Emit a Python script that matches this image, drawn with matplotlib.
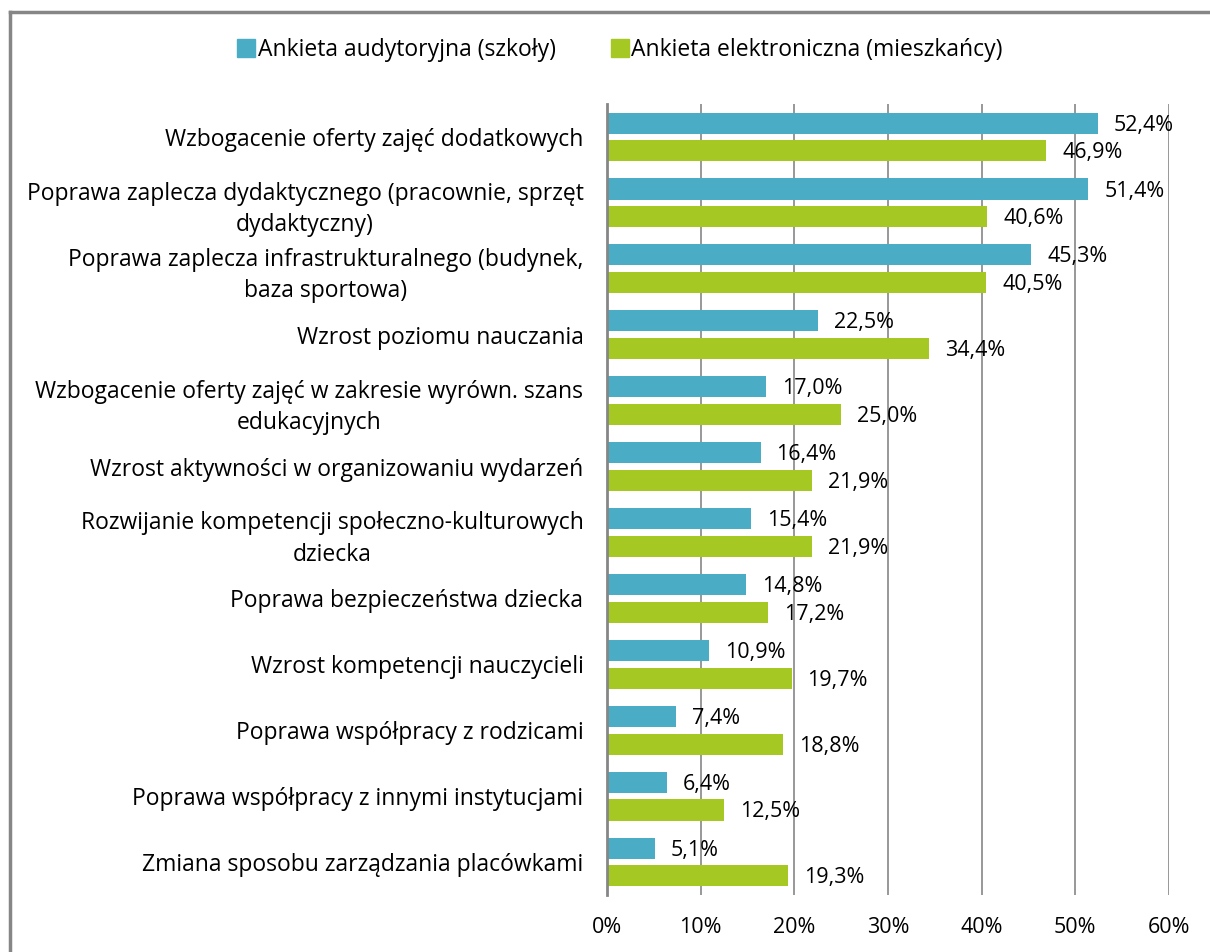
import matplotlib
matplotlib.use("Agg")
import matplotlib.pyplot as plt
from matplotlib.lines import Line2D
from matplotlib.patches import Patch

categories = [
    "Wzbogacenie oferty zajęć dodatkowych",
    "Poprawa zaplecza dydaktycznego (pracownie, sprzęt\ndydaktyczny)",
    "Poprawa zaplecza infrastrukturalnego (budynek,\nbaza sportowa)",
    "Wzrost poziomu nauczania",
    "Wzbogacenie oferty zajęć w zakresie wyrówn. szans\nedukacyjnych",
    "Wzrost aktywności w organizowaniu wydarzeń",
    "Rozwijanie kompetencji społeczno-kulturowych\ndziecka",
    "Poprawa bezpieczeństwa dziecka",
    "Wzrost kompetencji nauczycieli",
    "Poprawa współpracy z rodzicami",
    "Poprawa współpracy z innymi instytucjami",
    "Zmiana sposobu zarządzania placówkami",
]
szkoly = [52.4, 51.4, 45.3, 22.5, 17.0, 16.4, 15.4, 14.8, 10.9, 7.4, 6.4, 5.1]
mieszkancy = [46.9, 40.6, 40.5, 34.4, 25.0, 21.9, 21.9, 17.2, 19.7, 18.8, 12.5, 19.3]
series_names = ["Ankieta audytoryjna (szkoły)", "Ankieta elektroniczna (mieszkańcy)"]
xticks = [0, 10, 20, 30, 40, 50, 60]

blue = "#4BACC6"
green = "#A5C823"
grid_c = "#868686"

plt.rcParams['font.family'] = ['Open Sans', 'DejaVu Sans']

fig = plt.figure(figsize=(12.1, 9.52), dpi=100)
ax = fig.add_axes([607/1210, 1-895/952, (1169-607)/1210, (895-104)/952])

h = 0.32
off = 0.21
ys = list(range(len(categories)))
ax.barh([y - off for y in ys], szkoly, height=h, color=blue, zorder=3)
ax.barh([y + off for y in ys], mieszkancy, height=h, color=green, zorder=3)

def fmt(v):
    return f"{v:.1f}%".replace(".", ",")

for y, v in zip(ys, szkoly):
    ax.text(v + 1.7, y - off + 0.03, fmt(v), va="center", ha="left", fontsize=15.5, zorder=4)
for y, v in zip(ys, mieszkancy):
    ax.text(v + 1.7, y + off + 0.03, fmt(v), va="center", ha="left", fontsize=15.5, zorder=4)

ax.set_xlim(0, 60)
ax.set_ylim(len(categories) - 0.5, -0.5)
ax.set_xticks(xticks)
ax.set_xticklabels([f"{t}%" for t in xticks], fontsize=15.5)
ax.set_yticks(ys)
ax.set_yticklabels(categories, fontsize=16.5, multialignment="center", linespacing=1.4)
ax.tick_params(axis="y", length=0, pad=17)
ax.tick_params(axis="x", length=0, pad=16)
ax.grid(axis="x", color=grid_c, linewidth=1.2, zorder=0)
for s in ["top", "right", "bottom"]:
    ax.spines[s].set_visible(False)
ax.spines["left"].set_color(grid_c)
ax.spines["left"].set_linewidth(2)
ax.spines["left"].set_zorder(5)

handles = [Patch(color=blue), Patch(color=green)]
fig.legend(handles, series_names, loc="center", bbox_to_anchor=(620/1210, 1-50/952),
           ncol=2, frameon=False, fontsize=16.5, handlelength=0.8, handleheight=0.8,
           handletextpad=0.1, columnspacing=2.4)

# outer border (left and top)
fig.add_artist(Line2D([10/1210, 10/1210], [0, 1-12/952], color=grid_c, linewidth=2.5, transform=fig.transFigure))
fig.add_artist(Line2D([10/1210, 1], [1-12/952, 1-12/952], color=grid_c, linewidth=2.5, transform=fig.transFigure))

fig.savefig("out.png", dpi=100)
